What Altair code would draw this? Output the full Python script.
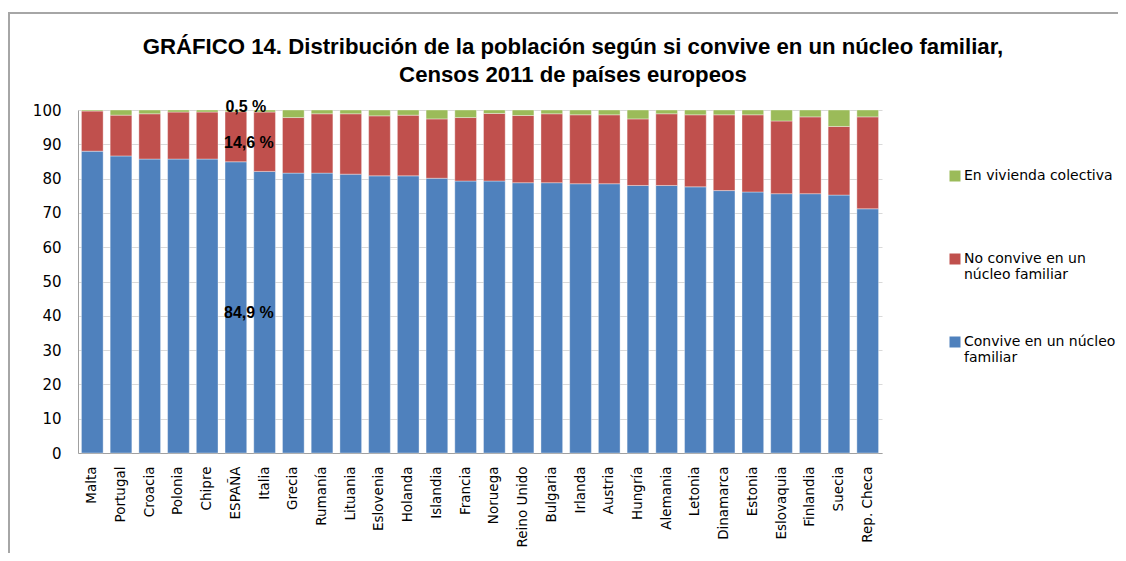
import altair as alt
import pandas as pd

countries = ["Malta", "Portugal", "Croacia", "Polonia", "Chipre", "ESPAÑA", "Italia",
             "Grecia", "Rumanía", "Lituania", "Eslovenia", "Holanda", "Islandia", "Francia",
             "Noruega", "Reino Unido", "Bulgaria", "Irlanda", "Austria", "Hungría", "Alemania",
             "Letonia", "Dinamarca", "Estonia", "Eslovaquia", "Finlandia", "Suecia", "Rep. Checa"]

convive = [88.0, 86.6, 85.7, 85.7, 85.7, 84.9, 82.1,
           81.6, 81.6, 81.3, 80.8, 80.8, 80.1, 79.3,
           79.3, 78.8, 78.8, 78.5, 78.5, 78.0, 78.0,
           77.6, 76.5, 76.1, 75.6, 75.6, 75.2, 71.2]

no_convive = [11.7, 11.9, 13.2, 13.7, 13.7, 14.6, 17.3,
              16.2, 17.3, 17.6, 17.5, 17.7, 17.3, 18.5,
              19.7, 19.6, 20.1, 20.1, 20.1, 19.4, 20.9,
              21.0, 22.1, 22.5, 21.2, 22.4, 20.0, 26.8]

colectiva = [0.3, 1.5, 1.1, 0.6, 0.6, 0.5, 0.6,
             2.2, 1.1, 1.1, 1.7, 1.5, 2.6, 2.2,
             1.0, 1.6, 1.1, 1.4, 1.4, 2.6, 1.1,
             1.4, 1.4, 1.4, 3.2, 2.0, 4.8, 2.0]

series = ["Convive en un núcleo familiar", "No convive en un núcleo familiar", "En vivienda colectiva"]
colors = ["#4F81BD", "#C0504D", "#9BBB59"]
highlight = "ESPAÑA"
title_lines = ["GRÁFICO 14. Distribución de la población según si convive en un núcleo familiar,",
               "Censos 2011 de países europeos"]
y_ticks = [0, 10, 20, 30, 40, 50, 60, 70, 80, 90, 100]

rows = []
for i, c in enumerate(countries):
    vals = [convive[i], no_convive[i], colectiva[i]]
    base = 0.0
    for k, (s, v) in enumerate(zip(series, vals)):
        rows.append({"pais": c, "serie": s, "valor": v, "orden": k,
                     "mid": base + v / 2,
                     "etiqueta": f"{v:.1f}".replace(".", ",") + " %"})
        base += v
df = pd.DataFrame(rows)

FONT = "DejaVu Sans"
BOLD_FONT = "Liberation Sans"

label_expr = (
    "datum.label == 'En vivienda colectiva' ? ['En vivienda colectiva', ''] : "
    "datum.label == 'No convive en un núcleo familiar' ? ['No convive en un', 'núcleo familiar'] : "
    "['Convive en un núcleo', 'familiar']"
)

y_axis = alt.Axis(values=y_ticks, labelFontSize=15, labelFont=FONT, labelOverlap=False,
                  labelColor="#000000", ticks=False, labelPadding=17, grid=True, title=None,
                  domainColor="#a0a0a0", gridColor="#d9d9d9")
y_scale = alt.Scale(domain=[0, 100], nice=False)
x_axis = alt.Axis(labelAngle=-90, labelFontSize=13.5, labelFont=FONT, labelColor="#000000",
                  ticks=False, domainColor="#a0a0a0", labelPadding=13, labelLimit=200,
                  title=None, grid=False)
x_scale = alt.Scale(paddingInner=0.245, paddingOuter=0.12)

frame = alt.Chart(pd.DataFrame({"f": [0]})).mark_rect(
    fill=None, stroke="#a6a6a6", strokeWidth=2
).encode(
    x=alt.value(-69), x2=alt.value(1200), y=alt.value(-97), y2=alt.value(600)
)

title = alt.Chart(pd.DataFrame({"f": [0]})).mark_text(
    text=title_lines, font=BOLD_FONT, fontSize=22.2, fontWeight="bold", color="#000000",
    align="center", baseline="top", lineHeight=28
).encode(
    x=alt.value(495), y=alt.value(-74)
)

bars = alt.Chart(df).mark_bar(stroke="#ffffff", strokeWidth=0.6, strokeOpacity=0.6).encode(
    x=alt.X("pais:N", sort=countries, scale=x_scale, axis=x_axis),
    y=alt.Y("valor:Q", stack="zero", scale=y_scale, axis=y_axis),
    color=alt.Color("serie:N",
                    scale=alt.Scale(domain=series[::-1], range=colors[::-1]),
                    legend=alt.Legend(title=None, orient="none", legendX=870, legendY=59,
                                      symbolType="square", symbolSize=121, symbolStrokeWidth=0,
                                      labelFontSize=14, labelFont=FONT, labelColor="#000000",
                                      labelBaseline="middle", labelOffset=2,
                                      rowPadding=53, labelExpr=label_expr, labelLimit=300)),
    order=alt.Order("orden:Q", sort="ascending"),
)

spain = df[df["pais"] == highlight]

text_main = alt.Chart(spain[spain["orden"] < 2]).mark_text(
    fontWeight="bold", fontSize=16, font=BOLD_FONT, color="#000000", dx=13, dy=6
).encode(
    x=alt.X("pais:N", sort=countries, scale=x_scale, axis=x_axis),
    y=alt.Y("mid:Q", scale=y_scale, axis=y_axis),
    text="etiqueta:N",
)

text_top = alt.Chart(spain[spain["orden"] == 2]).mark_text(
    fontWeight="bold", fontSize=16, font=BOLD_FONT, color="#000000", dx=10, dy=-4
).encode(
    x=alt.X("pais:N", sort=countries, scale=x_scale, axis=x_axis),
    y=alt.Y("mid:Q", scale=y_scale, axis=y_axis),
    text="etiqueta:N",
)

chart = alt.layer(frame, title, bars, text_main, text_top).properties(
    width=804, height=343,
    autosize=alt.AutoSizeParams(type="none"),
    padding={"left": 70, "top": 102, "right": 236, "bottom": 100},
).configure_view(stroke=None)

chart.save("out.html", embed_options={"renderer": "svg", "actions": False})
